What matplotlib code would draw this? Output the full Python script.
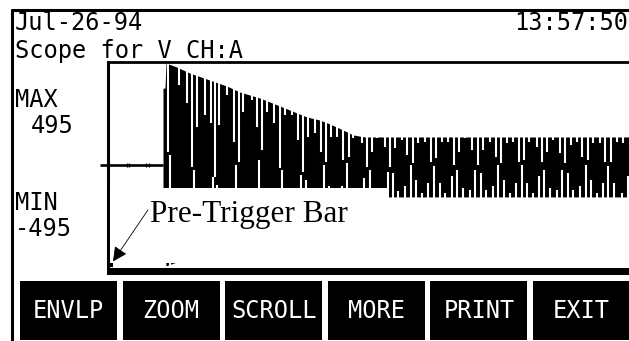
import matplotlib
matplotlib.use('Agg')
import matplotlib.pyplot as plt
from matplotlib.patches import Rectangle

# scope trace, x in samples after the left edge of the screen, y in volts
env_t = [55, 57, 58, 69, 82, 99, 119, 132, 152, 172, 199, 212, 222, 235, 245, 257, 521]
env_hi = [373, 373, 495, 475, 446, 417, 383, 354, 325, 286, 233, 218, 199, 170, 146, 136, 136]
env_lo = [-373, -373, -490, -470, -440, -415, -380, -350, -320, -285, -235, -218, -200, -172, -155, -155, -155]

# white stripes hanging down from the top of the trace (sample, lowest volt of gap)
top_gap_t = [60, 71, 79, 84, 89, 97, 103, 107, 111, 119, 126, 131, 135, 144, 149, 154, 159,
             166, 172, 177, 184, 190, 195, 200, 207, 213, 218, 223, 229, 235, 241, 245, 254,
             259, 264, 269, 277, 282, 287, 294, 299, 305, 310, 317, 323, 328, 334, 340, 346,
             351, 357, 364, 370, 375, 382, 388, 393, 399, 405, 411, 416, 421, 429, 434, 439,
             445, 452, 457, 463, 469, 474, 480, 485, 492, 497, 503, 509, 515]
top_gap_v = [63, 388, 301, -10, 184, 243, 204, -58, 194, 340, 112, 15, 257, 315, 184, 73, 257,
             204, -15, 243, 243, 121, -34, 136, 155, 63, 15, 136, 136, 24, 39, 131, 107,
             -10, 63, 131, 87, -10, 82, 121, 49, 10, 107, 112, 15, 34, 112, 112, 0,
             63, 131, 73, 0, 73, 112, 39, 10, 107, 112, 15, 24, 112, 87, 15, 63,
             121, 58, 10, 97, 112, 39, 24, 107, 107, 15, 15, 112, 107]

# white stripes rising from the bottom of the trace (sample, highest volt of gap)
bot_gap_t = [62, 86, 105, 109, 128, 151, 174, 193, 198, 216, 221, 234, 239, 256, 262, 280,
             285, 290, 297, 303, 308, 314, 320, 326, 332, 337, 344, 349, 355, 362, 367, 373,
             378, 385, 390, 396, 402, 408, 414, 419, 425, 431, 436, 442, 449, 454, 460, 465,
             472, 478, 483, 489, 495, 500, 506, 514, 520]
bot_gap_v = [49, -24, -58, -97, 0, 24, -24, -49, -73, 0, -102, -102, 10, -63, -24, -34,
             -39, -126, -102, 0, -73, -136, -87, -5, -87, -136, -53, -24, -112, -121, -24, -39,
             -121, -102, 0, -73, -136, -87, 0, -87, -136, -53, -24, -112, -121, -24, -39, -121,
             -102, 0, -73, -136, -87, -5, -87, -136, -53]

pre_t = [-8, 55]
pre_v = [0, 0]
pre_tick_t = [19, 21, 38, 41]

header_date = 'Jul-26-94'
header_time = '13:57:50'
title = 'Scope for V CH:A'
max_label, max_value = 'MAX', '495'
min_label, min_value = 'MIN', '-495'
buttons = ['ENVLP', 'ZOOM', 'SCROLL', 'MORE', 'PRINT', 'EXIT']
note = 'Pre-Trigger Bar'

W, H = 629, 341
fig = plt.figure(figsize=(W / 100, H / 100), dpi=100)

# screen chrome, drawn in pixel coordinates
bg = fig.add_axes([0, 0, 1, 1])
bg.set_xlim(0, W)
bg.set_ylim(H, 0)
bg.axis('off')
bg.plot([10.5, W], [9.5, 9.5], color='black', lw=2.2, solid_capstyle='butt')
bg.plot([12, 12], [8.5, H], color='black', lw=2.2, solid_capstyle='butt')
bg.add_patch(Rectangle((106.5, 268), W - 106.5, 7, color='black', lw=0))

lcd = dict(family='DejaVu Sans Mono', fontsize=17, va='baseline')
bg.text(15, 30, header_date, ha='left', **lcd)
bg.text(628, 30, header_time, ha='right', **lcd)
bg.text(15, 58, title, ha='left', **lcd)
bg.text(15, 107, max_label, ha='left', **lcd)
bg.text(31, 133, max_value, ha='left', **lcd)
bg.text(15, 210, min_label, ha='left', **lcd)
bg.text(15, 236, min_value, ha='left', **lcd)

for i, name in enumerate(buttons):
    x0 = 20 + i * 102.6
    bg.add_patch(Rectangle((x0, 280.5), 97, 59, color='black', lw=0))
    bg.text(x0 + 48.5, 318, name, ha='center', color='white', **lcd)

# the trace window
ax = fig.add_axes([108 / W, (H - 268) / H, (W - 108) / W, 206 / H])
ax.set_xlim(0, W - 108)
ax.set_ylim(-500, 500)
ax.set_facecolor('white')
ax.set_xticks([])
ax.set_yticks([])
for side in ['right', 'bottom']:
    ax.spines[side].set_visible(False)
ax.spines['top'].set_linewidth(2.0)
ax.spines['left'].set_linewidth(2.2)

ax.fill_between(env_t, env_lo, env_hi, color='black', lw=0, zorder=1)
ax.vlines(top_gap_t, top_gap_v, 500, color='white', lw=1.5, zorder=1.5)
ax.vlines(bot_gap_t, -500, bot_gap_v, color='white', lw=1.5, zorder=1.5)

ax.plot(pre_t, pre_v, color='black', lw=1.9, clip_on=False, solid_capstyle='butt')
ax.vlines(pre_tick_t, -12, 12, color='black', lw=0.9)

# pasted label covering the lower half of the trace
ax.add_patch(Rectangle((2, -475), 278, 363, color='white', lw=0, zorder=3))
ax.plot([0, 5], [-487, -487], color='black', lw=3, zorder=3.5, solid_capstyle='butt')
ax.text(42, -275, note, family='Liberation Serif', fontsize=22.5, va='baseline', zorder=4)
ax.annotate('', xy=(5, -468), xytext=(40, -218),
            arrowprops=dict(arrowstyle='-|>', color='black', lw=0.6,
                            mutation_scale=22, shrinkA=0, shrinkB=0), zorder=4)

fig.savefig('out.png', dpi=100)
